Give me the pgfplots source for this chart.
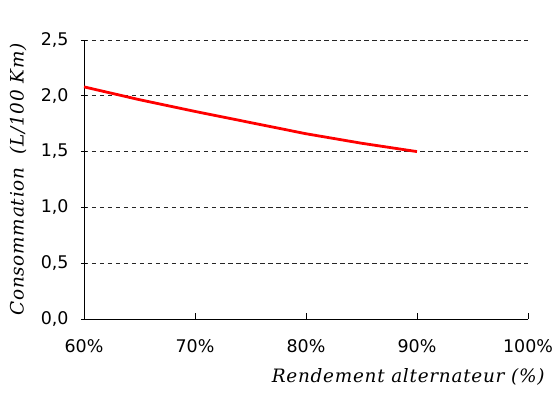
\documentclass[border=0pt]{standalone}
\usepackage{pgfplots}
\pgfplotsset{compat=1.18}
\usepackage{fontspec}
\setmainfont{DejaVu Sans}
\newfontfamily\labelfont{DejaVu Serif}[LetterSpace=4]

\begin{document}
\begin{tikzpicture}
\begin{axis}[
  scale only axis,
  width=444bp, height=279bp,
  at={(0,0)}, anchor=south west,
  xmin=60, xmax=100,
  ymin=0, ymax=2.5,
  xtick={60,70,80,90,100},
  ytick={0,0.5,1,1.5,2,2.5},
  xticklabel={\pgfmathprintnumber{\tick}\%},
  yticklabel style={/pgf/number format/fixed, /pgf/number format/fixed zerofill,
    /pgf/number format/precision=1, /pgf/number format/use comma, xshift=-9bp},
  /pgf/number format/assume math mode=true,
  tick label style={font=\fontsize{17.5}{17.5}\selectfont},
  axis x line*=bottom,
  axis y line*=left,
  axis line style={-, line width=0.9pt},
  x tick style={line width=0.8pt, black},
  y tick style={line width=0.8pt, black},
  xtick align=inside,
  ytick align=center,
  major tick length=6bp,
  ymajorgrids,
  major grid style={black!85, line width=0.9pt, dash pattern=on 4.5bp off 3.5bp},
  xticklabel style={yshift=-17bp},
  xlabel={Rendement alternateur (\%)},
  ylabel={Consommation \ (L/100 Km)},
  xlabel style={font=\labelfont\itshape\fontsize{18.5}{18.5}\selectfont, at={(rel axis cs:1,0)}, anchor=east, xshift=20bp, yshift=-58bp},
  ylabel style={font=\labelfont\itshape\fontsize{18.5}{18.5}\selectfont, at={(rel axis cs:0,0.5)}, anchor=center, yshift=66bp},
]
\addplot[color=red, line width=2.8pt] coordinates {
  (60,2.08) (65,1.965) (70,1.86) (75,1.76) (80,1.66) (85,1.575) (90,1.50)
};
\end{axis}
\pgfresetboundingbox
\path[use as bounding box] (-84bp,-75bp) rectangle (472bp,319bp);
\end{tikzpicture}
\end{document}
